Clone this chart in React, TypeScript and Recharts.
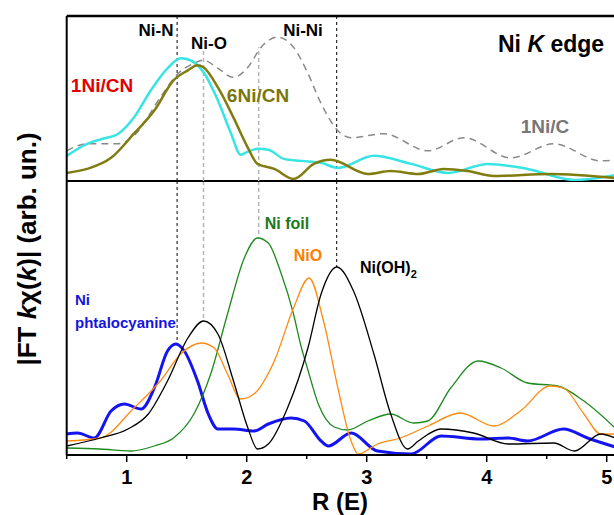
import React from "react";
import { LineChart, Line, XAxis, YAxis, ReferenceLine } from "recharts";

// R axis
const rDomain = [0.5, 5.5];
const rTicks = [0.5, 1, 1.5, 2, 2.5, 3, 3.5, 4, 4.5, 5, 5.5];

// top panel: single-atom samples (arb. units)
const cnR = [0.5, 0.67, 0.8, 0.93, 1.06, 1.2, 1.34, 1.45, 1.53, 1.64, 1.76, 1.87, 1.95, 1.99, 2.09, 2.18, 2.31, 2.45, 2.62, 2.76, 3.06, 3.37, 3.68, 4.01, 4.34, 4.73, 5.07];
const cnVal = [25, 37, 42, 47, 63, 90, 112, 122, 120, 108, 80, 47, 26, 28, 32, 31, 22, 20, 18, 13, 25, 17, 8, 17, 12, 1, 6];

const cn6R = [0.5, 0.67, 0.87, 1.06, 1.23, 1.39, 1.51, 1.59, 1.64, 1.76, 1.89, 2.01, 2.09, 2.23, 2.39, 2.56, 2.7, 3.01, 3.2, 3.43, 3.64, 3.84, 4.06, 4.53, 5.07];
const cn6Val = [8, 12, 23, 47, 70, 100, 110, 115, 113, 93, 63, 33, 17, 12, 2, 17, 21, 7, 10, 7, 12, 10, 5, 7, 3];

const cR = [0.5, 0.67, 0.93, 1.06, 1.28, 1.43, 1.56, 1.64, 1.76, 1.89, 2.01, 2.12, 2.26, 2.39, 2.51, 2.62, 2.76, 2.87, 3.14, 3.51, 3.81, 4.2, 4.56, 4.95, 5.07];
const cVal = [30, 37, 37, 45, 83, 107, 117, 120, 112, 103, 113, 133, 143, 133, 107, 77, 50, 43, 47, 30, 43, 23, 37, 20, 21];

// bottom panel: references
const pcR = [0.5, 0.59, 0.73, 0.87, 0.98, 1.12, 1.23, 1.34, 1.41, 1.48, 1.59, 1.68, 1.76, 1.89, 2.06, 2.18, 2.37, 2.48, 2.62, 2.68, 2.87, 3.09, 3.37, 3.62, 3.95, 4.18, 4.34, 4.64, 4.84, 5.07];
const pcVal = [21, 22, 17, 44, 51, 46, 67, 104, 111, 104, 74, 41, 26, 26, 24, 31, 37, 34, 14, 9, 22, 4, 1, 19, 16, 17, 14, 26, 17, 8];

const foilR = [0.5, 0.78, 1.03, 1.23, 1.39, 1.56, 1.7, 1.84, 1.98, 2.09, 2.18, 2.28, 2.39, 2.45, 2.51, 2.6, 2.73, 2.84, 3.01, 3.2, 3.39, 3.51, 3.7, 3.93, 4.12, 4.34, 4.59, 4.81, 5.07];
const foilVal = [7, 6, 4, 9, 17, 41, 81, 141, 197, 217, 212, 184, 141, 110, 85, 50, 28, 25, 34, 41, 32, 34, 67, 94, 87, 72, 69, 54, 27];

const nioR = [0.5, 0.78, 1.06, 1.28, 1.45, 1.62, 1.73, 1.84, 1.95, 2.06, 2.23, 2.39, 2.52, 2.64, 2.76, 2.87, 2.93, 3.09, 3.28, 3.51, 3.78, 4.06, 4.28, 4.53, 4.64, 4.81, 4.95, 5.07];
const nioVal = [14, 17, 47, 74, 101, 112, 107, 81, 56, 61, 94, 147, 177, 134, 67, 14, 1, 11, 17, 29, 42, 29, 44, 69, 67, 41, 21, 21];

const ohR = [0.5, 0.78, 1.01, 1.18, 1.34, 1.51, 1.64, 1.76, 1.89, 2.01, 2.09, 2.18, 2.34, 2.51, 2.62, 2.75, 2.89, 3.06, 3.2, 3.34, 3.43, 3.62, 3.89, 4.18, 4.56, 4.73, 4.95, 5.07];
const ohVal = [9, 17, 26, 41, 74, 117, 134, 121, 74, 27, 6, 11, 47, 107, 161, 188, 164, 101, 41, 6, 14, 26, 22, 11, 12, 4, 21, 17];

// shell positions (Ni-N, Ni-O, Ni-Ni, Ni(OH)2 peak)
const shellNiN = 1.42;
const shellNiO = 1.64;
const shellNiNi = 2.1;
const shellOH = 2.75;

const pts = (r: number[], v: number[]) => r.map((x, i) => ({ r: x, v: v[i] }));
const peakNear = (r: number[], v: number[], x: number) =>
  Math.max(...r.map((rr, i) => (Math.abs(rr - x) < 0.08 ? v[i] : 0)));

const TOP_MAX = 164;
const BOT_MAX = 274;
const font = "'Liberation Sans', Arial, sans-serif";

const BottomTick = (props: any) => {
  const { x, y, payload } = props;
  const major = Number.isInteger(payload.value);
  return (
    <g>
      <line x1={x} x2={x} y1={y} y2={y + (major ? 7 : 4)} stroke="#000" strokeWidth={1.5} />
      {major && (
        <text x={x} y={y + 29} textAnchor="middle" fontSize={20} fontWeight="bold" fontFamily={font} fill="#000">
          {payload.value}
        </text>
      )}
    </g>
  );
};

const InnerTopTick = (props: any) => {
  const { x, y, payload } = props;
  const major = Number.isInteger(payload.value);
  return <line x1={x} x2={x} y1={y} y2={y + (major ? 9 : 5)} stroke="#000" strokeWidth={1.5} />;
};

const lbl = (x: number, y: number, color: string, size: number, center = true): React.CSSProperties => ({
  position: "absolute",
  left: x,
  top: y,
  color,
  fontSize: size,
  fontWeight: "bold",
  lineHeight: 1,
  whiteSpace: "nowrap",
  transform: center ? "translate(-50%, -50%)" : "translate(0, -50%)",
});

const App: React.FC = () => {
  return (
    <div
      style={{
        position: "absolute",
        left: 0,
        top: 0,
        width: 614,
        height: 515,
        overflow: "hidden",
        background: "#fff",
        fontFamily: font,
      }}
    >
      {/* bottom panel */}
      <div style={{ position: "absolute", left: 0, top: 0 }}>
        <LineChart width={700} height={515} margin={{ top: 180, right: 33.3, bottom: 20, left: 65.7 }}>
          <XAxis
            dataKey="r"
            type="number"
            domain={rDomain}
            ticks={rTicks}
            interval={0}
            height={40}
            tickSize={0}
            tickMargin={0}
            tickLine={false}
            tick={<BottomTick />}
            axisLine={{ stroke: "#000", strokeWidth: 2 }}
          />
          <XAxis
            xAxisId="top"
            orientation="top"
            dataKey="r"
            type="number"
            domain={rDomain}
            ticks={rTicks}
            interval={0}
            height={1}
            tickSize={0}
            tickMargin={0}
            tickLine={false}
            tick={<InnerTopTick />}
            axisLine={{ stroke: "#000", strokeWidth: 2 }}
          />
          <YAxis
            type="number"
            domain={[0, BOT_MAX]}
            width={1}
            tick={false}
            tickLine={false}
            axisLine={{ stroke: "#000", strokeWidth: 2 }}
          />
          <ReferenceLine
            segment={[{ x: shellNiN, y: BOT_MAX }, { x: shellNiN, y: peakNear(pcR, pcVal, shellNiN) }]}
            stroke="#000"
            strokeDasharray="3 3"
            strokeWidth={1}
          />
          <ReferenceLine
            segment={[{ x: shellNiO, y: BOT_MAX }, { x: shellNiO, y: peakNear(ohR, ohVal, shellNiO) }]}
            stroke="#b5b5b5"
            strokeDasharray="4 3"
            strokeWidth={1.5}
          />
          <ReferenceLine
            segment={[{ x: shellNiNi, y: BOT_MAX }, { x: shellNiNi, y: peakNear(foilR, foilVal, shellNiNi) }]}
            stroke="#b5b5b5"
            strokeDasharray="4 3"
            strokeWidth={1.5}
          />
          <ReferenceLine
            segment={[{ x: shellOH, y: BOT_MAX }, { x: shellOH, y: peakNear(ohR, ohVal, shellOH) }]}
            stroke="#000"
            strokeDasharray="3 3"
            strokeWidth={1}
          />
          <Line data={pts(pcR, pcVal)} dataKey="v" type="monotone" stroke="#1414f0" strokeWidth={3} dot={false} isAnimationActive={false} />
          <Line data={pts(foilR, foilVal)} dataKey="v" type="monotone" stroke="#1e8a1e" strokeWidth={1.3} dot={false} isAnimationActive={false} />
          <Line data={pts(nioR, nioVal)} dataKey="v" type="monotone" stroke="#ff8a10" strokeWidth={1.3} dot={false} isAnimationActive={false} />
          <Line data={pts(ohR, ohVal)} dataKey="v" type="monotone" stroke="#000" strokeWidth={1.3} dot={false} isAnimationActive={false} />
        </LineChart>
      </div>

      {/* top panel */}
      <div style={{ position: "absolute", left: 0, top: 0 }}>
        <LineChart width={700} height={181} margin={{ top: 15, right: 33.3, bottom: 0, left: 65.7 }}>
          <XAxis dataKey="r" type="number" domain={rDomain} hide />
          <XAxis
            xAxisId="frame"
            orientation="top"
            type="number"
            domain={rDomain}
            height={1}
            tick={false}
            tickLine={false}
            axisLine={{ stroke: "#000", strokeWidth: 2.5 }}
          />
          <YAxis
            type="number"
            domain={[0, TOP_MAX]}
            width={1}
            tick={false}
            tickLine={false}
            axisLine={{ stroke: "#000", strokeWidth: 2 }}
          />
          <ReferenceLine
            segment={[{ x: shellNiN, y: 0 }, { x: shellNiN, y: TOP_MAX }]}
            stroke="#000"
            strokeDasharray="3 3"
            strokeWidth={1}
          />
          <ReferenceLine
            segment={[{ x: shellNiO, y: 0 }, { x: shellNiO, y: 130 }]}
            stroke="#b5b5b5"
            strokeDasharray="4 3"
            strokeWidth={1.5}
          />
          <ReferenceLine
            segment={[{ x: shellNiNi, y: 0 }, { x: shellNiNi, y: 133 }]}
            stroke="#b5b5b5"
            strokeDasharray="4 3"
            strokeWidth={1.5}
          />
          <ReferenceLine
            segment={[{ x: shellOH, y: 0 }, { x: shellOH, y: TOP_MAX }]}
            stroke="#000"
            strokeDasharray="3 3"
            strokeWidth={1}
          />
          <Line data={pts(cR, cVal)} dataKey="v" type="monotone" stroke="#8a8a8a" strokeWidth={1.5} strokeDasharray="7 5" dot={false} isAnimationActive={false} />
          <Line data={pts(cnR, cnVal)} dataKey="v" type="monotone" stroke="#38e4e4" strokeWidth={2.5} dot={false} isAnimationActive={false} />
          <Line data={pts(cn6R, cn6Val)} dataKey="v" type="monotone" stroke="#807c10" strokeWidth={2.5} dot={false} isAnimationActive={false} />
        </LineChart>
      </div>

      {/* annotations */}
      <div style={lbl(156, 30, "#000", 17)}>Ni-N</div>
      <div style={lbl(209, 43, "#000", 17)}>Ni-O</div>
      <div style={lbl(303, 30, "#000", 17)}>Ni-Ni</div>
      <div style={lbl(498, 44, "#000", 23, false)}>
        Ni <i>K</i> edge
      </div>
      <div style={lbl(102, 85, "#e00000", 19)}>1Ni/CN</div>
      <div style={lbl(258, 95, "#7a760c", 19)}>6Ni/CN</div>
      <div style={lbl(545, 126, "#777", 19)}>1Ni/C</div>

      <div style={lbl(287, 224, "#1a7a1a", 16)}>Ni foil</div>
      <div style={lbl(308, 256, "#ff8000", 16)}>NiO</div>
      <div style={lbl(360, 270, "#000", 16, false)}>
        Ni(OH)<sub style={{ fontSize: 11 }}>2</sub>
      </div>
      <div style={lbl(75, 299, "#1414e0", 15, false)}>Ni</div>
      <div style={lbl(75, 322, "#1414e0", 15, false)}>phtalocyanine</div>

      <div
        style={{
          position: "absolute",
          left: 27,
          top: 249,
          fontSize: 26,
          fontWeight: "bold",
          lineHeight: 1,
          whiteSpace: "nowrap",
          transform: "translate(-50%, -50%) rotate(-90deg)",
        }}
      >
        |FT <i>k</i>χ(<i>k</i>)| (arb. un.)
      </div>
      <div style={lbl(340, 502, "#000", 24)}>R (E)</div>
    </div>
  );
};

export default App;
